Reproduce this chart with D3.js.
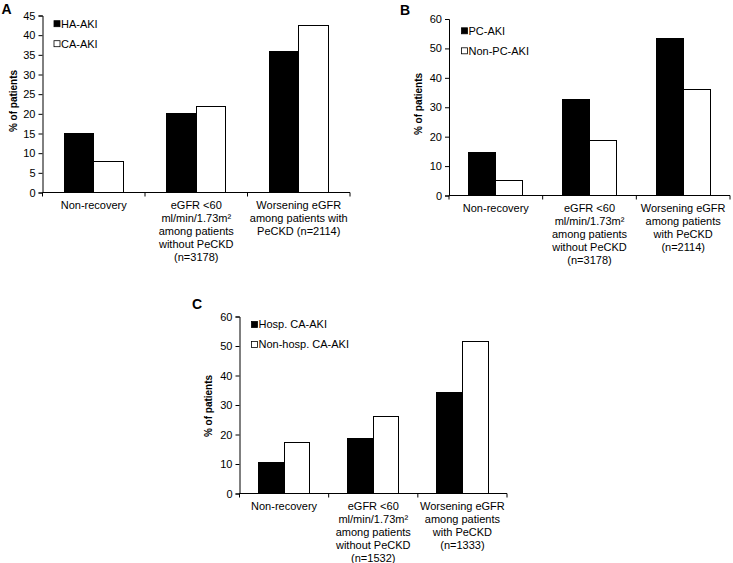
<!DOCTYPE html>
<html>
<head>
<meta charset="utf-8">
<script src="https://cdn.jsdelivr.net/npm/d3@7"></script>
<style>
  html, body { margin: 0; padding: 0; background: #fff; }
  svg { display: block; }
  text { font-family: "Liberation Sans", Arial, sans-serif; fill: #000; }
</style>
</head>
<body>
<svg id="chart" width="733" height="563"></svg>
<script>
// ---------- DATA ----------
const categoriesA = ["Non-recovery", "eGFR <60 PeCKD-free", "Worsening eGFR PeCKD"];
const labelsA = [
  ["Non-recovery"],
  ["eGFR <60", "ml/min/1.73m²", "among patients", "without PeCKD", "(n=3178)"],
  ["Worsening eGFR", "among patients with", "PeCKD (n=2114)"]
];
const seriesA = ["HA-AKI", "CA-AKI"];
const valuesA_HA = [15.0, 20.2, 35.8];
const valuesA_CA = [7.8, 21.9, 42.5];
const ticksA = [0, 5, 10, 15, 20, 25, 30, 35, 40, 45];

const categoriesB = categoriesA;
const labelsB = [
  ["Non-recovery"],
  ["eGFR <60", "ml/min/1.73m²", "among patients", "without PeCKD", "(n=3178)"],
  ["Worsening eGFR", "among patients", "with PeCKD", "(n=2114)"]
];
const seriesB = ["PC-AKI", "Non-PC-AKI"];
const valuesB_PC = [14.5, 32.7, 53.5];
const valuesB_NonPC = [5.2, 18.8, 36.2];
const ticksB = [0, 10, 20, 30, 40, 50, 60];

const categoriesC = categoriesA;
const labelsC = [
  ["Non-recovery"],
  ["eGFR <60", "ml/min/1.73m²", "among patients", "without PeCKD", "(n=1532)"],
  ["Worsening eGFR", "among patients", "with PeCKD", "(n=1333)"]
];
const seriesC = ["Hosp. CA-AKI", "Non-hosp. CA-AKI"];
const valuesC_Hosp = [10.4, 18.5, 34.3];
const valuesC_NonHosp = [17.2, 26.0, 51.6];
const ticksC = [0, 10, 20, 30, 40, 50, 60];

const fills = ["#000000", "#ffffff"];

// ---------- DRAW ----------
const svg = d3.select("#chart");

function panel(opt) {
  const g = svg.append("g");
  const y = d3.scaleLinear().domain([0, opt.ymax]).range([opt.y0, opt.y1]);
  const x0 = d3.scaleBand().domain(opt.categories).range([opt.xl, opt.xr]).paddingInner(0).paddingOuter(0);
  const x1 = d3.scaleBand().domain(opt.series).range([0, x0.bandwidth()]).paddingInner(0).paddingOuter(0.74);

  // bars
  opt.series.forEach((s, si) => {
    g.selectAll(null)
      .data(opt.values[si])
      .enter().append("rect")
      .attr("x", (d, i) => x0(opt.categories[i]) + x1(s))
      .attr("y", d => y(d))
      .attr("width", x1.bandwidth())
      .attr("height", d => y(0) - y(d))
      .attr("fill", fills[si])
      .attr("stroke", "#000")
      .attr("stroke-width", 1)
      .attr("shape-rendering", "crispEdges");
  });

  // y axis
  const ya = g.append("g")
    .attr("transform", `translate(${opt.xl},0)`)
    .call(d3.axisLeft(y).tickValues(opt.ticks).tickSize(4).tickPadding(3).tickFormat(d3.format("d")));
  ya.selectAll("text").attr("font-size", 11).style("font-family", '"Liberation Sans", Arial, sans-serif').attr("fill", "#111");
  ya.selectAll("path,line").attr("stroke", "#000");

  // x axis: ticks at category boundaries
  const xa = g.append("g").attr("transform", `translate(0,${opt.y0})`);
  xa.append("line").attr("x1", opt.xl).attr("x2", opt.xr).attr("y1", 0).attr("y2", 0).attr("stroke", "#000");
  const bounds = opt.categories.map(c => x0(c)).concat([opt.xr]);
  xa.selectAll(null).data(bounds).enter().append("line")
    .attr("x1", d => d).attr("x2", d => d).attr("y1", 0).attr("y2", 4).attr("stroke", "#000");

  // category labels
  opt.categories.forEach((c, i) => {
    const t = xa.append("text")
      .attr("x", x0(c) + x0.bandwidth() / 2)
      .attr("y", 16.5)
      .attr("text-anchor", "middle")
      .attr("font-size", 11)
      .attr("fill", "#111");
    opt.labels[i].forEach((ln, li) => {
      t.append("tspan").attr("x", x0(c) + x0.bandwidth() / 2).attr("dy", li === 0 ? 0 : 12.9).text(ln);
    });
  });

  // y title
  g.append("text")
    .attr("transform", `translate(${opt.titleX},${opt.titleY}) rotate(-90)`)
    .attr("text-anchor", "middle")
    .attr("dy", "0.35em")
    .attr("font-size", 10)
    .attr("font-weight", "bold")
    .text("% of patients");

  // panel letter
  g.append("text")
    .attr("x", opt.letterX).attr("y", opt.letterY)
    .attr("font-size", 14).attr("font-weight", "bold")
    .text(opt.letter);

  // legend
  opt.series.forEach((s, si) => {
    const ly = opt.legY + si * opt.legGap;
    g.append("rect")
      .attr("x", opt.legX).attr("y", ly - 3)
      .attr("width", 6).attr("height", 6)
      .attr("fill", fills[si]).attr("stroke", "#000").attr("stroke-width", 0.8);
    g.append("text")
      .attr("x", opt.legX + 7).attr("y", ly).attr("dy", "0.35em")
      .attr("font-size", 11).attr("fill", "#111")
      .text(s);
  });
}

panel({
  categories: categoriesA, labels: labelsA, series: seriesA,
  values: [valuesA_HA, valuesA_CA], ticks: ticksA, ymax: 45,
  xl: 42.5, xr: 350, y0: 192.5, y1: 15.5,
  titleX: 13, titleY: 101, letter: "A", letterX: 1.5, letterY: 13.5,
  legX: 54, legY: 23.7, legGap: 20
});

panel({
  categories: categoriesB, labels: labelsB, series: seriesB,
  values: [valuesB_PC, valuesB_NonPC], ticks: ticksB, ymax: 60,
  xl: 449, xr: 730, y0: 195.5, y1: 19,
  titleX: 418.5, titleY: 104, letter: "B", letterX: 400, letterY: 15,
  legX: 461.5, legY: 30.8, legGap: 20
});

panel({
  categories: categoriesC, labels: labelsC, series: seriesC,
  values: [valuesC_Hosp, valuesC_NonHosp], ticks: ticksC, ymax: 60,
  xl: 239.5, xr: 507, y0: 493.5, y1: 316.5,
  titleX: 208.5, titleY: 406, letter: "C", letterX: 192, letterY: 309,
  legX: 251.5, legY: 324.5, legGap: 20
});
</script>
</body>
</html>
